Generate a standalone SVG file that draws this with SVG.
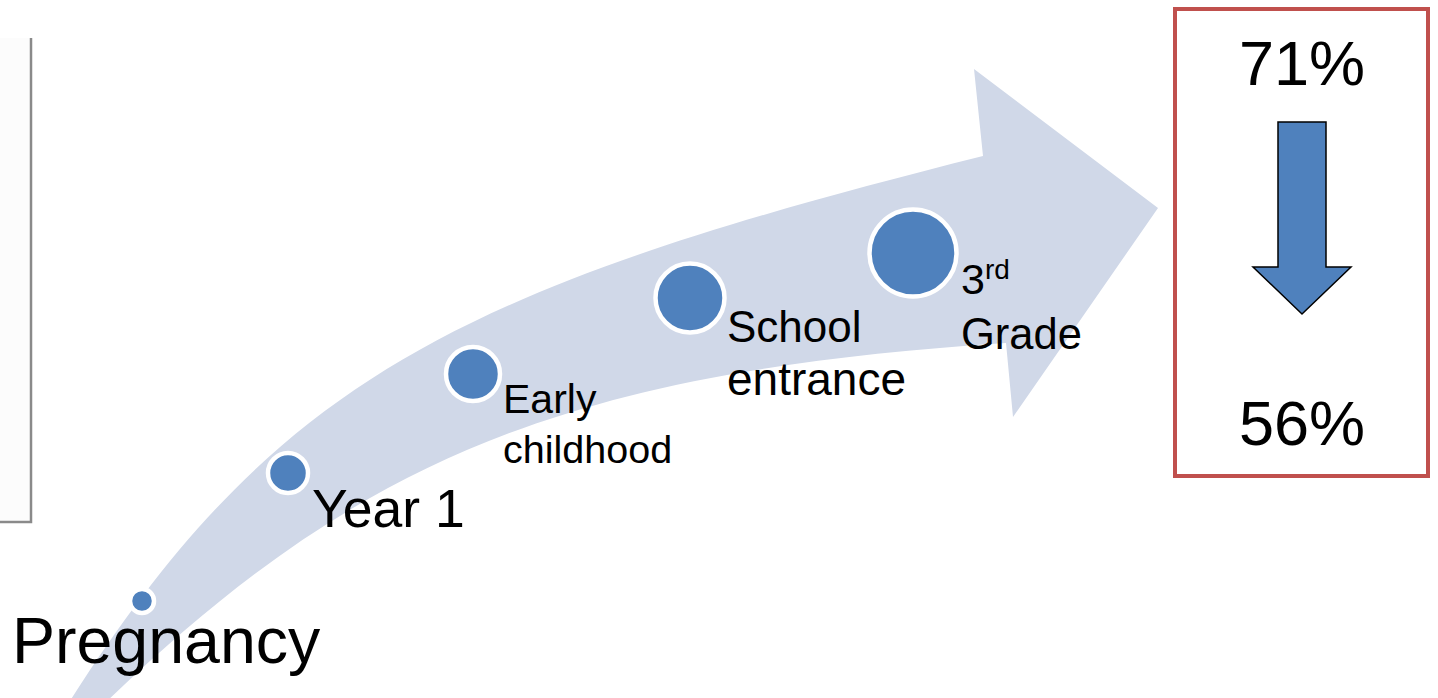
<svg xmlns="http://www.w3.org/2000/svg" width="1438" height="698" viewBox="0 0 1438 698">
<style>
text{font-family:"Liberation Sans",Arial,sans-serif;fill:#000}
.dot{fill:#4F81BD;stroke:#fff;stroke-width:4.5}
</style>
<rect width="1438" height="698" fill="#fff"/>
<g id="left-frame">
<rect x="0" y="38" width="31" height="484" fill="#fcfcfc"/>
<path d="M31,38 V522 H0" fill="none" stroke="#8a8a8a" stroke-width="2.5"/>
</g>
<g id="connectors">
<path id="curved-arrow" d="M68,704 C275,379 457,288 983,156 L974,69 L1158,208 L1013,417 L1006,343 C560,372 356,462 104,704 Z" fill="#D0D8E8"/>
</g>
<g id="pregnancy">
<circle class="dot" cx="142" cy="601" r="12"/>
<text x="12" y="663" font-size="64.5">Pregnancy</text>
</g>
<g id="year1">
<circle class="dot" cx="288" cy="473" r="20"/>
<text x="312" y="527" font-size="53.5">Year 1</text>
</g>
<g id="early-childhood">
<circle class="dot" cx="473" cy="374" r="27"/>
<text x="503" y="413" font-size="41">Early</text>
<text x="503" y="463" font-size="39.5">childhood</text>
</g>
<g id="school-entrance">
<circle class="dot" cx="690" cy="298" r="34.5"/>
<text x="727" y="342" font-size="44">School</text>
<text x="727" y="395" font-size="46">entrance</text>
</g>
<g id="third-grade">
<circle class="dot" cx="913" cy="253" r="43.5"/>
<text x="961" y="294" font-size="43">3<tspan font-size="28" dy="-15">rd</tspan></text>
<text x="961" y="349" font-size="43.5">Grade</text>
</g>
<g id="result-box">
<rect x="1175" y="9" width="253" height="467" fill="#fff" stroke="#C0504D" stroke-width="4"/>
<text x="1302" y="85" font-size="63" text-anchor="middle">71%</text>
<path d="M1278,122 H1326 V267 H1351 L1302,314 L1253,267 H1278 Z" fill="#4F81BD" stroke="#000" stroke-width="1.5"/>
<text x="1302" y="445" font-size="63" text-anchor="middle">56%</text>
</g>
</svg>
